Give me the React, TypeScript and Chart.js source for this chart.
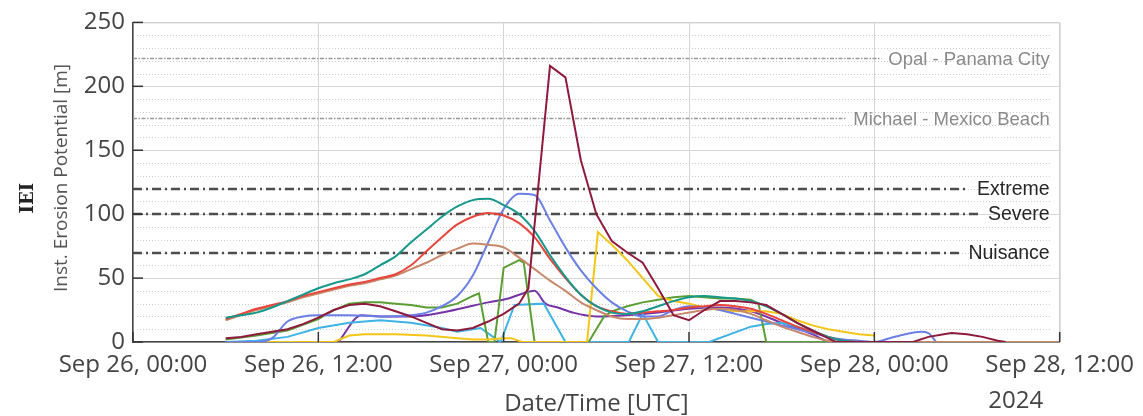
import React, { useEffect, useRef } from "react";
import { Chart, registerables } from "chart.js";
Chart.register(...registerables);

// ---------- axis data ----------
const xTickHours = [0, 12, 24, 36, 48, 60];
const xTickLabels = ["Sep 26, 00:00", "Sep 26, 12:00", "Sep 27, 00:00", "Sep 27, 12:00", "Sep 28, 00:00", "Sep 28, 12:00"];
const yearLabel = "2024";
const yMajorTicks = [0, 50, 100, 150, 200, 250];
const yMinorTicks = [10, 20, 30, 40, 60, 70, 80, 90, 110, 120, 130, 140, 160, 170, 180, 190, 210, 220, 230, 240];
const xTitle = "Date/Time [UTC]";
const yTitleMain = "IEI";
const yTitleSub = "Inst. Erosion Potential [m]";

// ---------- reference levels ----------
const historicValues = [222, 175];
const historicLabels = ["Opal - Panama City", "Michael - Mexico Beach"];
const levelValues = [120, 100, 70];
const levelLabels = ["Extreme", "Severe", "Nuisance"];

// ---------- series (hours since Sep 26 00:00 UTC, IEI [m]) ----------
const maroonSeries = [[6,3],[7,4],[8,6],[9,8],[10,10],[11,14],[12,19],[13,25],[14,29],[15,30],[16,28],[17,24],[18,20],[19,15],[20,10],[21,9],[22,11],[23,16],[24,22],[25,30],[25.6,42],[27,216],[28,207],[29,142],[30,100],[31,79],[32,70],[33,62],[34,42],[35,21],[36,17],[37,25],[38,32],[39,32],[40,31],[41,29],[42,22],[43,15],[44,9],[45,3],[45.5,0],[50.5,0],[51.5,4],[52.5,6],[53,7],[54,6],[55,4],[56,1],[56.5,0]];
const tealSeries = [[6,19],[7,21],[8,23],[9,27],[10,32],[11,37],[12,42],[13,46],[14,49],[15,53],[16,60],[17,67],[18,78],[19,88],[20,98],[21,106],[22,111],[23,112],[24,107],[25,100],[26,87],[27,68],[28,51],[29,37],[30,28],[31,23],[32,22],[33,24],[34,28],[35,32],[36,35],[37,36],[38,35],[39,34],[40,32],[41,28],[42,22],[43,15],[44,9],[45,4],[46,1],[47,0]];
const redSeries = [[6,18],[7,22],[8,26],[9,29],[10,32],[11,36],[12,39],[13,42],[14,45],[15,47],[16,50],[17,53],[18,60],[19,71],[20,82],[21,92],[22,98],[23,101],[24,99],[25,93],[26,82],[27,65],[28,50],[29,37],[30,28],[31,24],[32,22],[33,23],[34,24],[35,25],[36,27],[37,28],[38,29],[39,28],[40,26],[41,22],[42,17],[43,12],[44,8],[45,4],[46,1],[47,0]];
const tanSeries = [[6,17],[7,21],[8,25],[9,28],[10,31],[11,35],[12,38],[13,41],[14,44],[15,46],[16,49],[17,52],[18,57],[19,62],[20,68],[21,73],[22,77],[23,76],[24,74],[25,66],[26,57],[27,48],[28,40],[29,31],[30,25],[31,20],[32,18],[33,18],[34,19],[35,21],[36,23],[37,25],[38,26],[39,25],[40,22],[41,17],[42,12],[43,8],[44,4],[45,1],[46,0],[60,0]];
const blueSeries = [[6,0],[8,0],[9,3],[10,16],[11,20],[12,21],[14,21],[16,20],[18,21],[19,23],[20,28],[21,36],[22,52],[23,78],[24,104],[25,116],[26,115],[27,95],[28,74],[29,56],[30,42],[31,31],[32,24],[33,20],[34,20],[35,25],[36,28],[37,27],[38,25],[39,22],[40,19],[41,16],[42,13],[43,10],[44,7],[45,4],[46,2],[47,1],[48,0],[49,3],[50,6],[51,8],[51.5,7],[52,0]];
const yellowSeries = [[8,0],[13,0],[14,5],[15,6],[17,6],[19,5],[21,3],[22,2],[23,2],[24,3],[24.5,3],[25.2,0],[29.4,0],[30.1,86],[31,76],[32,64],[33,50],[34,36],[35,32],[36,30],[37,27],[38,25],[39,24],[40,24],[41,24],[42,22],[43,17],[44,13],[45,10],[46,8],[47,6],[48,5]];
const greenSeries = [[6,2],[8,5],[10,9],[12,18],[13,25],[14,30],[15,31],[16,31],[17,30],[18,29],[19,27],[20,27],[21,30],[22,36],[22.4,38],[23,0],[23.4,0],[24,58],[25,64],[25.3,62],[26,0],[29.5,0],[30.5,20],[31,24],[32,28],[33,31],[34,33],[35,35],[36,36],[37,35],[38,34],[39,34],[40,33],[40.5,30],[41,0],[48,0]];
const cyanSeries = [[6,0],[8,1],[10,4],[12,11],[14,15],[16,17],[18,15],[20,11],[21,8],[22,10],[22.5,11],[23.2,5],[23.8,0],[24.7,29],[26.6,30],[28,0],[32.1,0],[33,22],[34,0],[37.3,0],[40,12],[41,14],[42,15],[43,12],[44,8],[45,4],[46,0],[48,0]];
const purpleSeries = [[13.3,0],[14.8,21],[16,20],[18,20],[20,23],[21.5,27],[23,31],[24.3,34],[25,37],[26,40],[26.7,30],[27.5,27],[28.5,23],[30,20],[32,21],[34,23],[36,26],[38,27],[40,24],[42,15],[44,6],[45,0]];

const seriesList = [maroonSeries, tealSeries, redSeries, tanSeries, blueSeries, yellowSeries, greenSeries, cyanSeries, purpleSeries];
const seriesNames = ["S1", "S2", "S3", "S4", "S5", "S6", "S7", "S8", "S9"];
const seriesColors = ["#8e1b3e", "#17988a", "#e8453c", "#c9876a", "#6b7fe6", "#f4c619", "#5b9e34", "#3fb3e4", "#7634a6"];
const seriesSmooth = [false, true, true, true, true, false, false, false, true];

const TICK_FONT = "'Open Sans', sans-serif";
const LABEL_FONT = "'Liberation Sans', Arial, sans-serif";

const decorPlugin = {
  id: "decor",
  beforeDatasetsDraw(chart: any) {
    const { ctx, chartArea: a, scales } = chart;
    const y = scales.y;
    ctx.save();
    // minor dotted grid
    ctx.strokeStyle = "#cccccc";
    ctx.lineWidth = 1;
    ctx.setLineDash([1, 2]);
    yMinorTicks.forEach((v) => {
      const py = Math.round(y.getPixelForValue(v)) + 0.5;
      ctx.beginPath();
      ctx.moveTo(a.left + 4, py);
      ctx.lineTo(a.right - 8, py);
      ctx.stroke();
    });
    // historic references
    ctx.textAlign = "left";
    ctx.textBaseline = "middle";
    const labelRight = a.right - 10;
    ctx.font = `18.5px ${LABEL_FONT}`;
    historicValues.forEach((v, i) => {
      const py = Math.round(y.getPixelForValue(v)) + 0.5;
      const w = ctx.measureText(historicLabels[i]).width;
      const lx = labelRight - w;
      ctx.strokeStyle = "#999999";
      ctx.lineWidth = 1.6;
      ctx.setLineDash([4, 1.5, 1.5, 1.5]);
      ctx.beginPath();
      ctx.moveTo(a.left, py);
      ctx.lineTo(lx - 7, py);
      ctx.stroke();
      ctx.fillStyle = "#8a8a8a";
      ctx.fillText(historicLabels[i], lx, py + 1);
    });
    ctx.font = `19.5px ${LABEL_FONT}`;
    levelValues.forEach((v, i) => {
      const py = Math.round(y.getPixelForValue(v));
      const w = ctx.measureText(levelLabels[i]).width;
      const lx = labelRight - w;
      ctx.strokeStyle = "#4d4d4d";
      ctx.lineWidth = 2.6;
      ctx.setLineDash([9, 4, 2, 4]);
      ctx.beginPath();
      ctx.moveTo(a.left, py);
      ctx.lineTo(lx - 9, py);
      ctx.stroke();
      ctx.fillStyle = "#262626";
      ctx.fillText(levelLabels[i], lx, py + 1);
    });
    ctx.restore();
  },
  afterDraw(chart: any) {
    const { ctx, chartArea: a, scales } = chart;
    const x = scales.x;
    const y = scales.y;
    ctx.save();
    // top / right frame
    ctx.strokeStyle = "#cfcfcf";
    ctx.lineWidth = 1;
    ctx.setLineDash([]);
    ctx.beginPath();
    ctx.moveTo(a.left, a.top + 0.5);
    ctx.lineTo(a.right + 0.5, a.top + 0.5);
    ctx.lineTo(a.right + 0.5, a.bottom);
    ctx.stroke();
    // inner ticks
    ctx.strokeStyle = "#333333";
    ctx.lineWidth = 1.5;
    xTickHours.forEach((h) => {
      const px = x.getPixelForValue(h);
      ctx.beginPath();
      ctx.moveTo(px, a.bottom);
      ctx.lineTo(px, a.bottom - 10);
      ctx.stroke();
    });
    yMajorTicks.forEach((v) => {
      const py = y.getPixelForValue(v);
      ctx.beginPath();
      ctx.moveTo(a.left, py);
      ctx.lineTo(a.left + 10, py);
      ctx.stroke();
    });
    // year under last tick
    ctx.font = `24px ${TICK_FONT}`;
    ctx.fillStyle = "#444444";
    ctx.textBaseline = "middle";
    ctx.textAlign = "left";
    const lastH = xTickHours[xTickHours.length - 1];
    const lastW = ctx.measureText(xTickLabels[xTickLabels.length - 1]).width;
    ctx.fillText(yearLabel, x.getPixelForValue(lastH) - lastW / 2 + 3, 401);
    // x title
    ctx.textAlign = "center";
    ctx.fillText(xTitle, (a.left + a.right) / 2, 404);
    // y titles
    ctx.translate(28, (a.top + a.bottom) / 2 + 16);
    ctx.rotate(-Math.PI / 2);
    ctx.font = `bold 18px 'DejaVu Serif', serif`;
    ctx.fillStyle = "#222222";
    ctx.fillText(yTitleMain, 0, 0);
    ctx.restore();
    ctx.save();
    ctx.translate(62, 178);
    ctx.rotate(-Math.PI / 2);
    ctx.font = `19px ${TICK_FONT}`;
    ctx.fillStyle = "#555555";
    ctx.textAlign = "center";
    ctx.textBaseline = "middle";
    ctx.fillText(yTitleSub, 0, 0);
    ctx.restore();
  },
};

export default function App() {
  const ref = useRef<HTMLCanvasElement>(null);
  useEffect(() => {
    document.body.style.margin = "0";
    const datasets = seriesList.map((s, i) => ({
      label: seriesNames[i],
      data: s.map(([h, v]) => ({ x: h, y: v })),
      borderColor: seriesColors[i],
      backgroundColor: seriesColors[i],
      borderWidth: 2,
      pointRadius: 0,
      fill: false,
      tension: 0,
      cubicInterpolationMode: seriesSmooth[i] ? ("monotone" as const) : ("default" as const),
    }));
    const chart = new Chart(ref.current as HTMLCanvasElement, {
      type: "line",
      data: { datasets },
      plugins: [decorPlugin],
      options: {
        animation: false,
        responsive: false,
        events: [],
        layout: { padding: { top: 21, right: 78, bottom: 0, left: 0 } },
        plugins: { legend: { display: false }, tooltip: { enabled: false } },
        scales: {
          x: {
            type: "linear",
            min: xTickHours[0],
            max: xTickHours[xTickHours.length - 1],
            afterBuildTicks: (scale: any) => {
              scale.ticks = xTickHours.map((h) => ({ value: h }));
            },
            afterFit: (scale: any) => {
              scale.height = 74;
            },
            ticks: {
              autoSkip: false,
              maxRotation: 0,
              padding: 9,
              color: "#444444",
              font: { family: TICK_FONT, size: 24 },
              callback: (v: any) => {
                const idx = xTickHours.indexOf(Number(v));
                return idx >= 0 ? xTickLabels[idx] : "";
              },
            },
            grid: { color: "#d6d6d6", lineWidth: 1, drawTicks: false },
            border: { display: true, color: "#444444", width: 1.5 },
          },
          y: {
            type: "linear",
            min: yMajorTicks[0],
            max: yMajorTicks[yMajorTicks.length - 1],
            afterBuildTicks: (scale: any) => {
              scale.ticks = yMajorTicks.map((v) => ({ value: v }));
            },
            afterFit: (scale: any) => {
              scale.width = 133;
            },
            ticks: {
              padding: 8,
              color: "#444444",
              font: { family: TICK_FONT, size: 24 },
            },
            grid: { color: "#d6d6d6", lineWidth: 1, drawTicks: false },
            border: { display: true, color: "#444444", width: 1.5 },
          },
        },
      },
    });
    return () => chart.destroy();
  }, []);
  return (
    <div style={{ width: 1143, height: 416 }}>
      <canvas ref={ref} width={1143} height={416} style={{ display: "block" }} />
    </div>
  );
}
